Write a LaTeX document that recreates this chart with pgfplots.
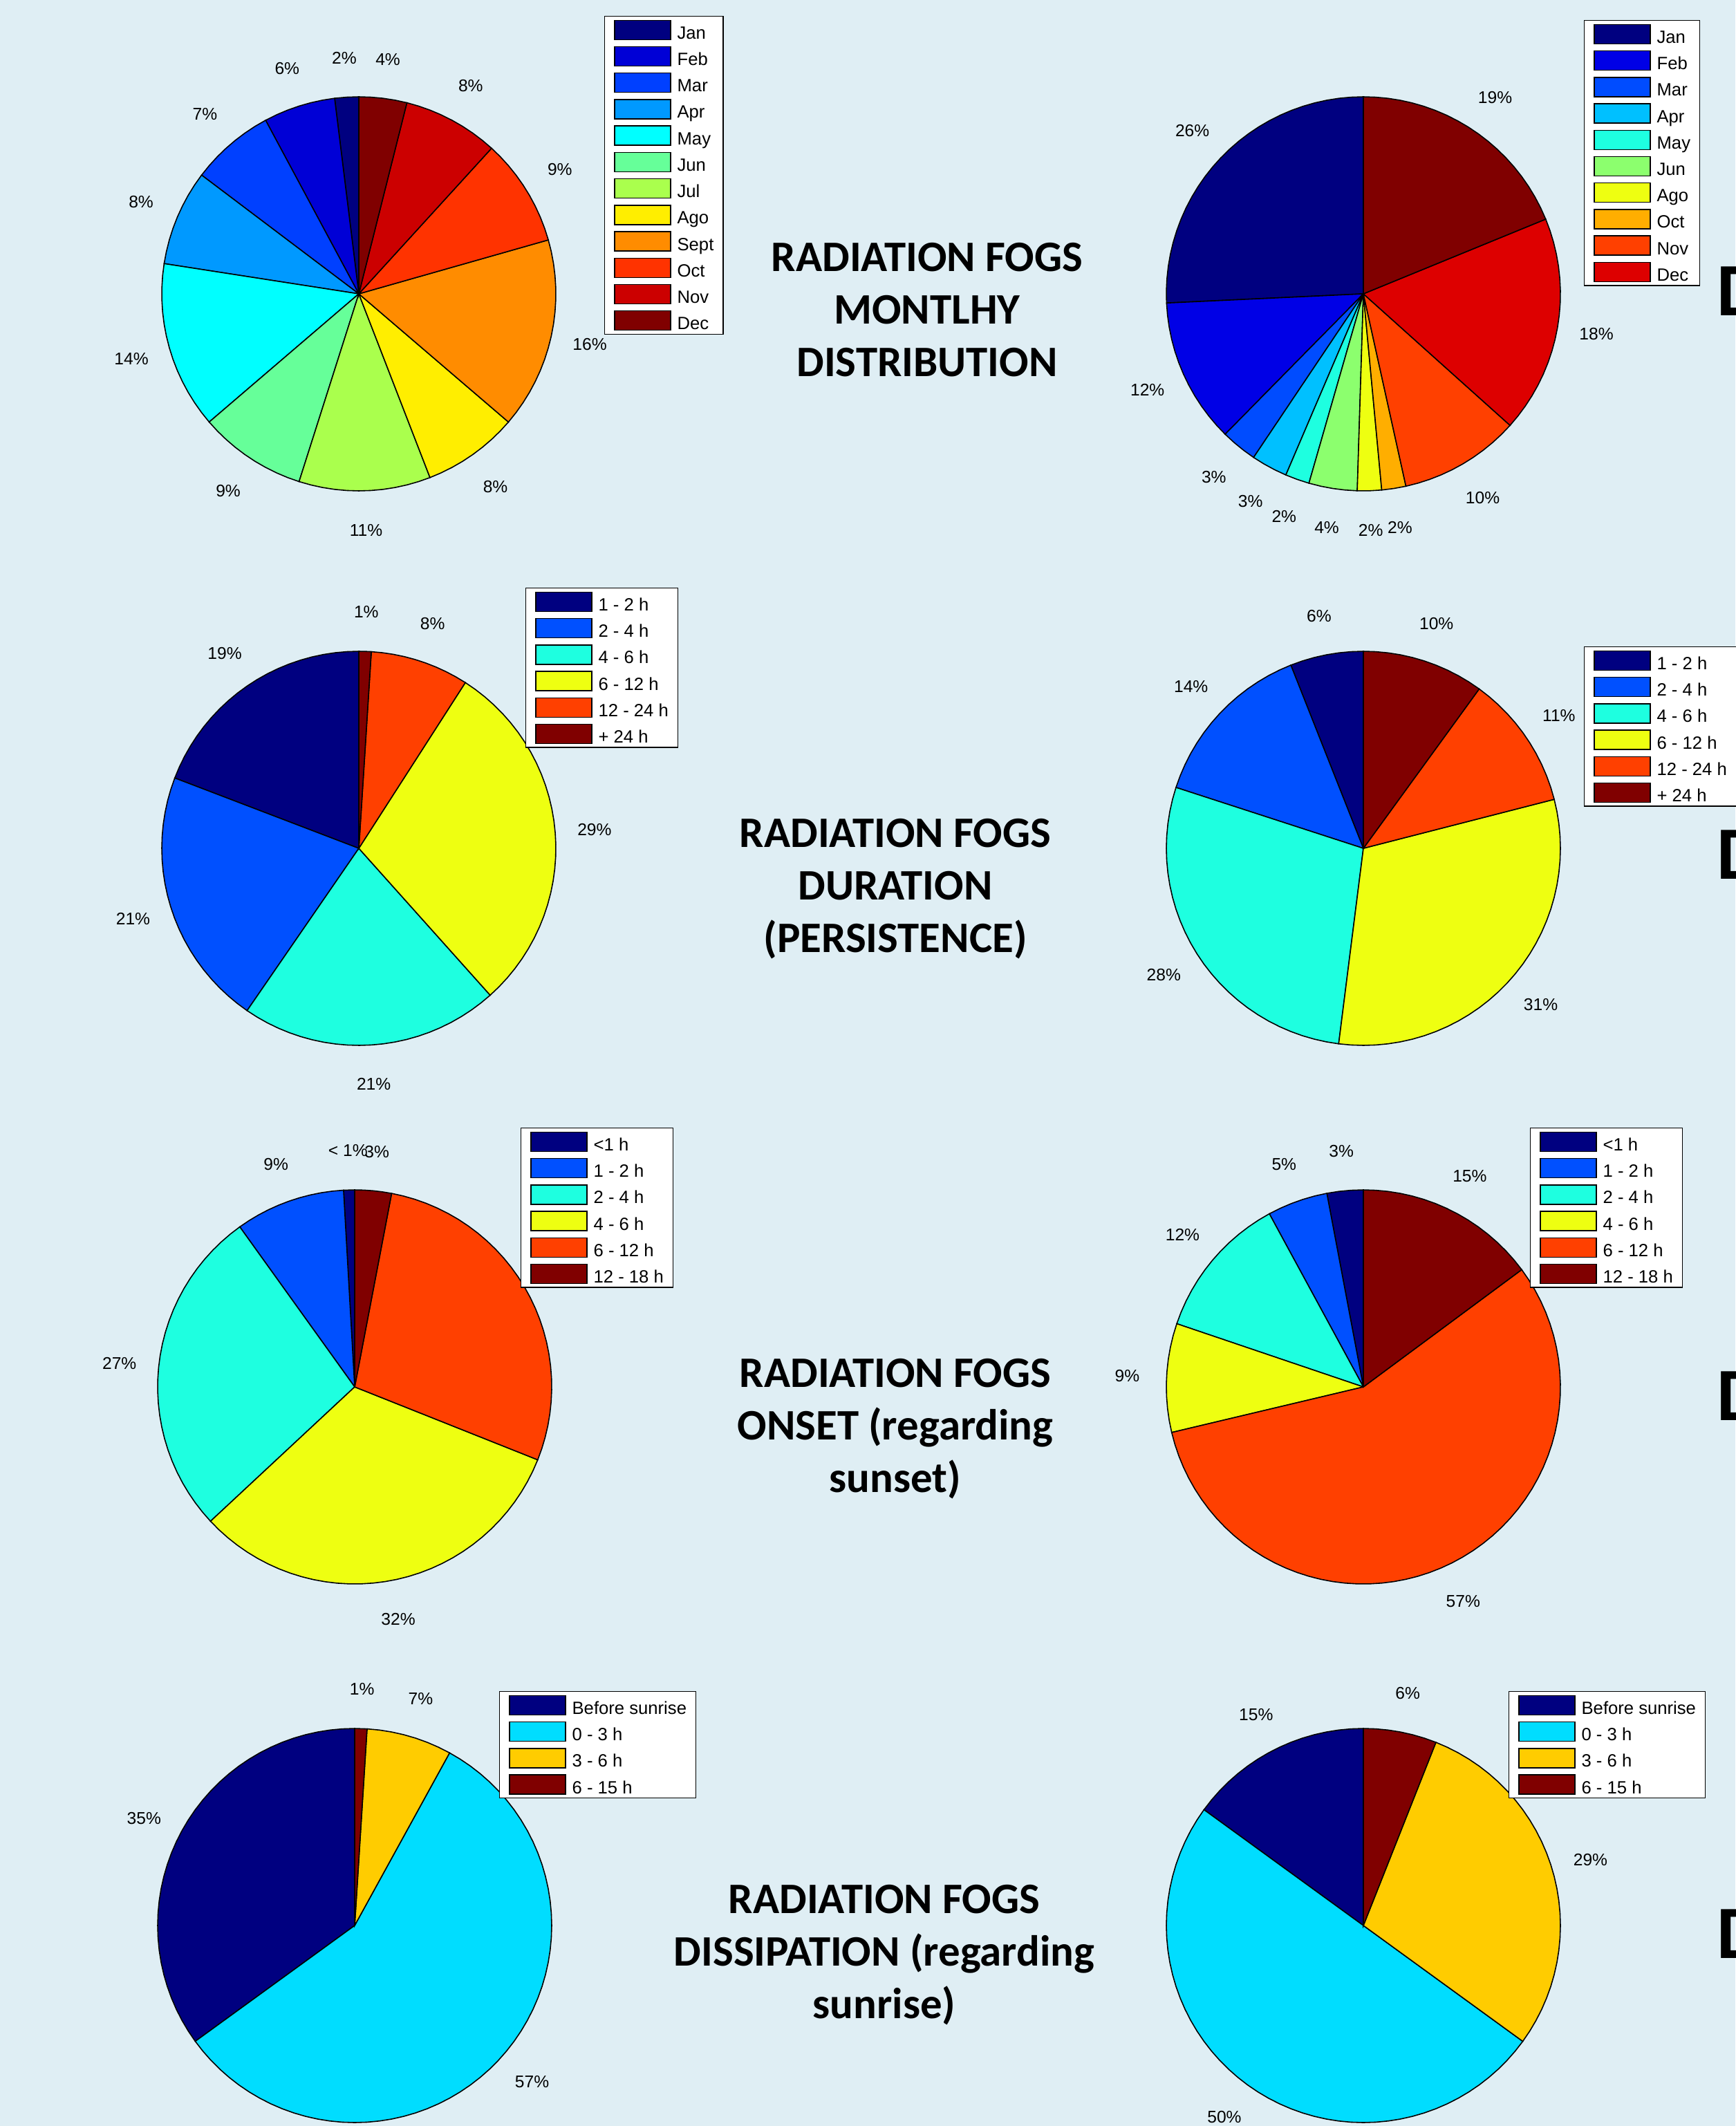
\documentclass[border=0pt]{standalone}
\usepackage{fontspec}
\setmainfont{Liberation Sans}
\newfontfamily\carlito{Carlito}
\usepackage{pgfplots}
\usepackage{pgfplotstable}
\pgfplotsset{compat=1.18}

\definecolor{bg}{RGB}{223,238,244}
% 12-colour jet
\definecolor{a1}{RGB}{0,0,128}\definecolor{a2}{RGB}{0,0,214}\definecolor{a3}{RGB}{0,64,255}
\definecolor{a4}{RGB}{0,153,255}\definecolor{a5}{RGB}{0,255,255}\definecolor{a6}{RGB}{102,255,153}
\definecolor{a7}{RGB}{170,255,77}\definecolor{a8}{RGB}{255,238,0}\definecolor{a9}{RGB}{255,140,0}
\definecolor{a10}{RGB}{255,51,0}\definecolor{a11}{RGB}{204,0,0}\definecolor{a12}{RGB}{128,0,0}
% 11-colour jet
\definecolor{b1}{RGB}{0,0,128}\definecolor{b2}{RGB}{0,0,230}\definecolor{b3}{RGB}{0,76,255}
\definecolor{b4}{RGB}{0,192,255}\definecolor{b5}{RGB}{30,255,224}\definecolor{b6}{RGB}{140,255,110}
\definecolor{b7}{RGB}{238,255,17}\definecolor{b8}{RGB}{255,174,0}\definecolor{b9}{RGB}{255,64,0}
\definecolor{b10}{RGB}{221,0,0}\definecolor{b11}{RGB}{128,0,0}
% 6-colour jet
\definecolor{c1}{RGB}{0,0,128}\definecolor{c2}{RGB}{0,80,255}\definecolor{c3}{RGB}{30,255,224}
\definecolor{c4}{RGB}{238,255,17}\definecolor{c5}{RGB}{255,64,0}\definecolor{c6}{RGB}{128,0,0}
% 4-colour jet
\definecolor{d1}{RGB}{0,0,128}\definecolor{d2}{RGB}{0,221,255}\definecolor{d3}{RGB}{255,204,0}
\definecolor{d4}{RGB}{128,0,0}

\newcommand\labfont{\fontsize{7}{8}\selectfont}
\newcommand\legfont{\fontsize{7.3}{8.8}\selectfont}

% ---------- data (percent of fog events) ----------
\pgfplotstableread[col sep=comma]{
val,col,lab
2,a1,2
6,a2,6
7,a3,7
8,a4,8
14,a5,14
9,a6,9
11,a7,11
8,a8,8
16,a9,16
9,a10,9
8,a11,8
4,a12,4
}\pieA
\pgfplotstableread[col sep=comma]{
val,col,lab
26,b1,26
12,b2,12
3,b3,3
3,b4,3
2,b5,2
4,b6,4
2,b7,2
2,b8,2
10,b9,10
18,b10,18
19,b11,19
}\pieB
\pgfplotstableread[col sep=comma]{
val,col,lab
19,c1,19
21,c2,21
21,c3,21
29,c4,29
8,c5,8
1,c6,1
}\pieC
\pgfplotstableread[col sep=comma]{
val,col,lab
6,c1,6
14,c2,14
28,c3,28
31,c4,31
11,c5,11
10,c6,10
}\pieD
\pgfplotstableread[col sep=comma]{
val,col,lab
0.9,c1,< 1
9,c2,9
27,c3,27
32,c4,32
28,c5,28
3,c6,3
}\pieE
\pgfplotstableread[col sep=comma]{
val,col,lab
3,c1,3
5,c2,5
12,c3,12
9,c4,9
57,c5,57
15,c6,15
}\pieF
\pgfplotstableread[col sep=comma]{
val,col,lab
35,d1,35
57,d2,57
7,d3,7
1,d4,1
}\pieG
\pgfplotstableread[col sep=comma]{
val,col,lab
15,d1,15
50,d2,50
29,d3,29
6,d4,6
}\pieH

\tikzset{pielabel/.style={font=\labfont, inner sep=0pt}}

\newcommand\drawpie[1]{%
  \pgfplotstablegetrowsof{#1}%
  \pgfmathtruncatemacro\pien{\pgfplotsretval-1}%
  \gdef\pietot{0}%
  \pgfplotsforeachungrouped \i in {0,...,\pien}{%
    \pgfplotstablegetelem{\i}{val}\of{#1}%
    \pgfmathparse{\pietot+\pgfplotsretval}\xdef\pietot{\pgfmathresult}%
  }%
  \gdef\pieacc{0}%
  \pgfplotsforeachungrouped \i in {0,...,\pien}{%
    \pgfplotstablegetelem{\i}{val}\of{#1}\let\pv\pgfplotsretval
    \pgfplotstablegetelem{\i}{col}\of{#1}\let\pc\pgfplotsretval
    \pgfplotstablegetelem{\i}{lab}\of{#1}\let\pl\pgfplotsretval
    \pgfmathsetmacro\pa{90+\pieacc/\pietot*360}%
    \pgfmathparse{\pieacc+\pv}\xdef\pieacc{\pgfmathresult}%
    \pgfmathsetmacro\pb{90+\pieacc/\pietot*360}%
    \pgfmathsetmacro\pmx{1.2*cos((\pa+\pb)/2)}%
    \pgfmathsetmacro\pmy{1.2*sin((\pa+\pb)/2)}%
    \pgfmathtruncatemacro\ns{max(2,ceil(\pv/\pietot*100)+1)}%
    \edef\tmp{\noexpand\addplot[draw=black,line width=0.45pt,fill=\pc,domain=\pa:\pb,samples=\ns] ({cos(x)},{sin(x)}) -- (axis cs:0,0) -- cycle;%
      \noexpand\node[pielabel] at (axis cs:\pmx,\pmy) {\pl\noexpand\%};}%
    \tmp
  }%
}

\pgfplotsset{
  pie/.style={
    scale only axis, width=5.70cm, height=5.70cm,
    xmin=-1, xmax=1, ymin=-1, ymax=1,
    hide axis, clip=false, anchor=center,
    legend image code/.code={\draw[##1,draw=black,line width=0.4pt] (0cm,-0.14cm) rectangle (0.81cm,0.14cm);},
    legend cell align=left,
    legend style={anchor=north west, draw=black, line width=0.4pt, fill=white,
      font=\legfont, inner xsep=0.135cm, inner ysep=0.05cm,
      row sep=0.088cm, column sep=0.09cm,
      nodes={inner sep=0pt, text height=0.27cm, text depth=0.01cm}},
  }
}
\tikzset{ttl/.style={align=center, font=\carlito\bfseries\fontsize{17.9}{21.6}\selectfont,
  text height=0.40cm, text depth=0cm, inner sep=0pt},
  bigd/.style={anchor=base west, inner sep=0pt, font=\carlito\bfseries\fontsize{31}{31}\selectfont}}

\begin{document}
\begin{tikzpicture}
\useasboundingbox (0,0) rectangle (25.10,-30.75);
\fill[bg] (0,0) rectangle (25.10,-30.75);

% Row 1
\begin{axis}[pie, at={(5.19cm,-4.25cm)}, legend style={at={(1.1228,1.2053)}},
  legend entries={Jan,Feb,Mar,Apr,May,Jun,Jul,Ago,Sept,Oct,Nov,Dec}]
\drawpie{\pieA}
\end{axis}
\begin{axis}[pie, at={(19.72cm,-4.25cm)}, legend style={at={(1.0596,1.1947)}},
  legend entries={Jan,Feb,Mar,Apr,May,Jun,Ago,Oct,Nov,Dec}]
\drawpie{\pieB}
\end{axis}
% Row 2
\begin{axis}[pie, at={(5.19cm,-12.27cm)}, legend style={at={(0.9228,1.1614)}},
  legend entries={1 - 2 h,2 - 4 h,4 - 6 h,6 - 12 h,12 - 24 h,+ 24 h}]
\drawpie{\pieC}
\end{axis}
\begin{axis}[pie, at={(19.72cm,-12.27cm)}, legend style={at={(1.0596,1.0123)}},
  legend entries={1 - 2 h,2 - 4 h,4 - 6 h,6 - 12 h,12 - 24 h,+ 24 h}]
\drawpie{\pieD}
\end{axis}
% Row 3
\begin{axis}[pie, at={(5.13cm,-20.06cm)}, legend style={at={(0.9211,1.1579)}},
  legend entries={<1 h,1 - 2 h,2 - 4 h,4 - 6 h,6 - 12 h,12 - 18 h}]
\drawpie{\pieE}
\end{axis}
\begin{axis}[pie, at={(19.72cm,-20.06cm)}, legend style={at={(0.9228,1.1579)}},
  legend entries={<1 h,1 - 2 h,2 - 4 h,4 - 6 h,6 - 12 h,12 - 18 h}]
\drawpie{\pieF}
\end{axis}
% Row 4
\begin{axis}[pie, at={(5.13cm,-27.85cm)}, legend style={at={(0.8667,1.0947)}},
  legend entries={Before sunrise,0 - 3 h,3 - 6 h,6 - 15 h}]
\drawpie{\pieG}
\end{axis}
\begin{axis}[pie, at={(19.72cm,-27.85cm)}, legend style={at={(0.8684,1.0947)}},
  legend entries={Before sunrise,0 - 3 h,3 - 6 h,6 - 15 h}]
\drawpie{\pieH}
\end{axis}

% Titles
\node[ttl] at (13.41,-5.245) {RADIATION FOGS\\MONTLHY\\DISTRIBUTION};
\node[ttl] at (12.95,-13.57) {RADIATION FOGS\\DURATION\\(PERSISTENCE)};
\node[ttl] at (12.95,-21.38) {RADIATION FOGS\\ONSET (regarding\\sunset)};
\node[ttl] at (12.79,-28.99) {RADIATION FOGS\\DISSIPATION (regarding\\sunrise)};

% cut-off letters at the right edge
\node[bigd] at (24.83,-4.57) {D};
\node[bigd] at (24.83,-12.71) {D};
\node[bigd] at (24.83,-20.54) {D};
\node[bigd] at (24.83,-28.32) {D};
\end{tikzpicture}
\end{document}
